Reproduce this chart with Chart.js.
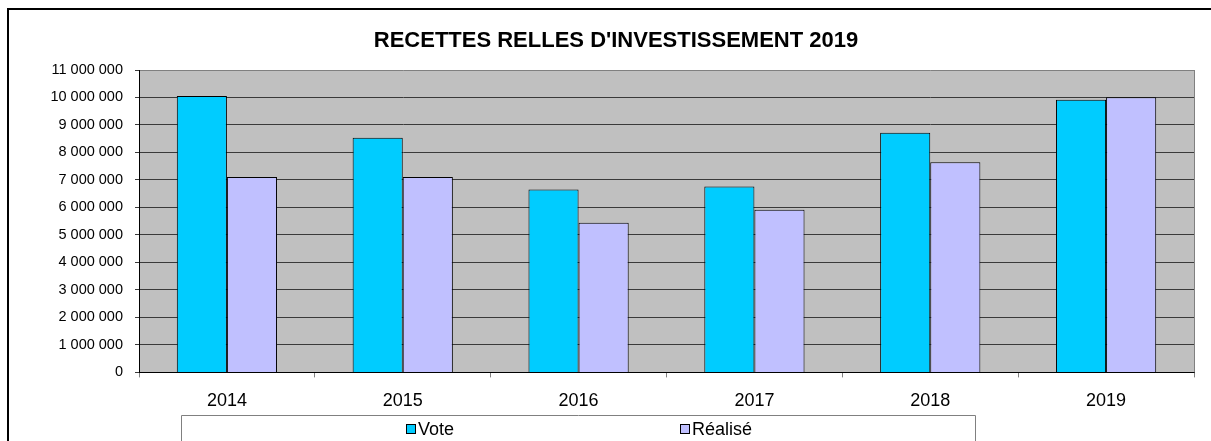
<!DOCTYPE html>
<html lang="fr">
<head>
<meta charset="utf-8">
<title>Recettes réelles d'investissement 2019</title>
<script src="https://cdn.jsdelivr.net/npm/chart.js@4/dist/chart.umd.min.js"></script>
<style>
    html, body { margin: 0; padding: 0; background: #fff; }
    #wrap { position: relative; width: 1211px; height: 441px; }
</style>
</head>
<body>
<div id="wrap"><canvas id="chart"></canvas></div>
<script>
// ─── Data ─────────────────────────────────────────────────────────────────
const years = ['2014', '2015', '2016', '2017', '2018', '2019'];
const vote = [10050000, 8540000, 6650000, 6760000, 8720000, 9920000];
const realise = [7110000, 7110000, 5440000, 5920000, 7640000, 10010000];
const seriesLabels = ['Vote', 'Réalisé'];
const seriesColors = ['#00CCFF', '#C0C0FF'];
const chartTitle = "RECETTES RELLES D'INVESTISSEMENT 2019";

const FONT = "'Liberation Sans', Arial, sans-serif";

const fmt = v => String(v).replace(/\B(?=(\d{3})+(?!\d))/g, ' ');

// ─── Frame, title, plot border and legend box ─────────────────────────────
const decor = {
    id: 'decor',
    beforeDraw(chart) {
        const { ctx, chartArea: a } = chart;
        ctx.save();
        ctx.fillStyle = '#C0C0C0';
        ctx.fillRect(a.left, a.top, a.right - a.left, a.bottom - a.top);
        ctx.restore();
    },
    afterDraw(chart) {
        const { ctx, chartArea: a } = chart;
        ctx.save();

        // outer frame (top + left only, the rest is cut off)
        ctx.strokeStyle = '#000';
        ctx.lineWidth = 2;
        ctx.beginPath();
        ctx.moveTo(8, 445);
        ctx.lineTo(8, 9);
        ctx.lineTo(1215, 9);
        ctx.stroke();

        // plot right border
        ctx.strokeStyle = '#808080';
        ctx.lineWidth = 1;
        ctx.beginPath();
        ctx.moveTo(a.right + 0.5, a.top);
        ctx.lineTo(a.right + 0.5, a.bottom);
        ctx.stroke();

        // title
        ctx.fillStyle = '#000';
        ctx.font = `bold 22px ${FONT}`;
        ctx.textAlign = 'center';
        ctx.textBaseline = 'middle';
        ctx.fillText(chartTitle, 616, 41);

        // legend box
        ctx.strokeStyle = '#808080';
        ctx.beginPath();
        ctx.moveTo(181.5, 445);
        ctx.lineTo(181.5, 415.5);
        ctx.lineTo(975.5, 415.5);
        ctx.lineTo(975.5, 445);
        ctx.stroke();

        const itemX = [406, 680];
        ctx.font = `18px ${FONT}`;
        ctx.textAlign = 'left';
        chart.data.datasets.forEach((ds, i) => {
            ctx.fillStyle = ds.backgroundColor;
            ctx.fillRect(itemX[i] + 0.5, 424.5, 9, 9);
            ctx.strokeStyle = '#000';
            ctx.strokeRect(itemX[i] + 0.5, 424.5, 9, 9);
            ctx.fillStyle = '#000';
            ctx.fillText(ds.label, itemX[i] + 12, 430);
        });
        ctx.restore();
    }
};

new Chart(document.getElementById('chart'), {
    type: 'bar',
    data: {
        labels: years,
        datasets: [
            { label: seriesLabels[0], data: vote, backgroundColor: seriesColors[0] },
            { label: seriesLabels[1], data: realise, backgroundColor: seriesColors[1] }
        ]
    },
    options: {
        responsive: true,
        maintainAspectRatio: false,
        animation: false,
        layout: { padding: { top: 70, right: 17, bottom: 16, left: 0 } },
        datasets: {
            bar: {
                borderColor: '#000',
                borderWidth: 1,
                categoryPercentage: 0.57,
                barPercentage: 1.0
            }
        },
        scales: {
            x: {
                offset: true,
                grid: {
                    offset: true,
                    drawOnChartArea: false,
                    drawTicks: true,
                    tickLength: 5,
                    color: '#808080'
                },
                border: { color: '#000', width: 1 },
                ticks: { color: '#000', padding: 13, font: { family: FONT, size: 18 } }
            },
            y: {
                min: 0,
                max: 11000000,
                afterFit: s => { s.width = 139; },
                grid: {
                    color: c => c.tick && c.tick.value === 11000000 ? '#808080' : '#3a3a3a',
                    tickColor: '#3a3a3a',
                    tickLength: 4,
                    lineWidth: 1
                },
                border: { color: '#000', width: 1 },
                ticks: {
                    stepSize: 1000000,
                    color: '#000',
                    padding: 12,
                    font: { family: FONT, size: 14.5 },
                    callback: v => fmt(v)
                }
            }
        },
        plugins: {
            legend: { display: false },
            title: { display: false },
            tooltip: { enabled: false }
        }
    },
    plugins: [decor]
});
</script>
</body>
</html>
